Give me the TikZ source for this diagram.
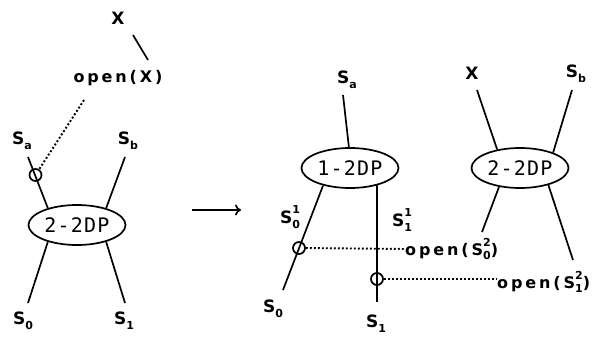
\documentclass[tikz,border=0pt]{standalone}
\usepackage{fontspec}
\usetikzlibrary{shapes.geometric,arrows.meta}
\newfontfamily\dfont{DejaVu Sans}[LetterSpace=12]
\newfontfamily\ofont{DejaVu Sans}[LetterSpace=18]
\newfontfamily\efont{DejaVu Sans Mono}[LetterSpace=6]
\newcommand\Ssub[1]{S\raisebox{-0.3em}{\fontsize{11}{11}\selectfont #1}}
\newcommand\Ssubsup[2]{S\raisebox{-0.3em}{\fontsize{11}{11}\selectfont\rlap{#1}}\raisebox{0.55em}{\fontsize{11}{11}\selectfont #2}}
\begin{document}
\begin{tikzpicture}[x=1pt,y=-1pt,
  wire/.style={line width=1.7pt},
  dots/.style={line width=1.9pt, dash pattern=on 1.9pt off 2.1pt},
  lab/.style={inner sep=0pt, font=\dfont\bfseries\fontsize{17}{17}\selectfont},
  optxt/.style={inner sep=0pt, font=\ofont\bfseries\fontsize{16}{16}\selectfont},
  dp/.style={ellipse, draw, line width=1.7pt, inner sep=0pt, minimum width=97pt, minimum height=40pt, font=\efont\fontsize{20}{20}\selectfont},
  ring/.style={circle, draw, line width=1.7pt, minimum size=12pt, inner sep=0pt}]
\useasboundingbox (0,0) rectangle (598,337);

% ---------- left diagram ----------
\node[lab] (lX) at (118,18) {X};
\node[optxt] (lopen) at (118,78) {open(X)};
\coordinate (lXa) at (133,35);
\coordinate (lXb) at (148,60);
\draw[wire] (lXa) -- (lXb);
\node[dp] (L) at (77,225) {2-2DP};
\node[lab] (lSa) at (22,141) {\Ssub{a}};
\node[lab] (lSb) at (128,141) {\Ssub{b}};
\node[lab] (lS0) at (23,321) {\Ssub{0}};
\node[lab] (lS1) at (124,321) {\Ssub{1}};
\coordinate (la) at (28,157);
\coordinate (lb) at (125,157);
\coordinate (l0) at (28,303);
\coordinate (l1) at (125,303);
\draw[wire] (la) -- (L.150);
\draw[wire] (lb) -- (L.30);
\draw[wire] (L.210) -- (l0);
\draw[wire] (L.330) -- (l1);
\node[ring] (lring) at (35.5,175) {};
\coordinate (ldot) at (84,100);
\draw[dots] (ldot) -- (lring);

% ---------- arrow ----------
\coordinate (ar1) at (192,210);
\coordinate (ar2) at (241,210);
\draw[wire,-{To[length=6pt,width=11pt]}] (ar1) -- (ar2);

% ---------- right diagram ----------
\node[lab] (rSa) at (347,80) {\Ssub{a}};
\node[dp] (M) at (350,168) {1-2DP};
\coordinate (rSat) at (343,95);
\draw[wire] (rSat) -- (M.93);
\coordinate (rl0) at (283,290);
\coordinate (rv) at (377,302);
\draw[wire] (M.213) -- (rl0);
\draw[wire] (rv |- M.329) -- (rv);
\node[ring] (rring1) at (299,248) {};
\node[ring] (rring2) at (377,279) {};
\node[lab] (rS01) at (290,217) {\Ssubsup{0}{1}};
\node[lab] (rS11) at (402,220) {\Ssubsup{1}{1}};
\node[lab] (rS0) at (273,309) {\Ssub{0}};
\node[lab] (rS1) at (376,324) {\Ssub{1}};

\node[dp] (R) at (520,168) {2-2DP};
\node[lab] (rX) at (472,73) {X};
\node[lab] (rSb) at (576,74) {\Ssub{b}};
\coordinate (rXa) at (477,90);
\coordinate (rSba) at (572,90);
\coordinate (rRb0) at (482,232);
\coordinate (rRb1) at (573,260);
\draw[wire] (rXa) -- (R.141);
\draw[wire] (rSba) -- (R.25);
\draw[wire] (R.222) -- (rRb0);
\draw[wire] (R.329) -- (rRb1);

\node[optxt, anchor=west] (open0) at (405,249) {open(\Ssubsup{0}{2})};
\node[optxt, anchor=west] (open1) at (497,282) {open(\Ssubsup{1}{2})};
\draw[dots] (rring1) -- (open0.west);
\draw[dots] (rring2) -- (rring2 -| open1.west);
\end{tikzpicture}
\end{document}
